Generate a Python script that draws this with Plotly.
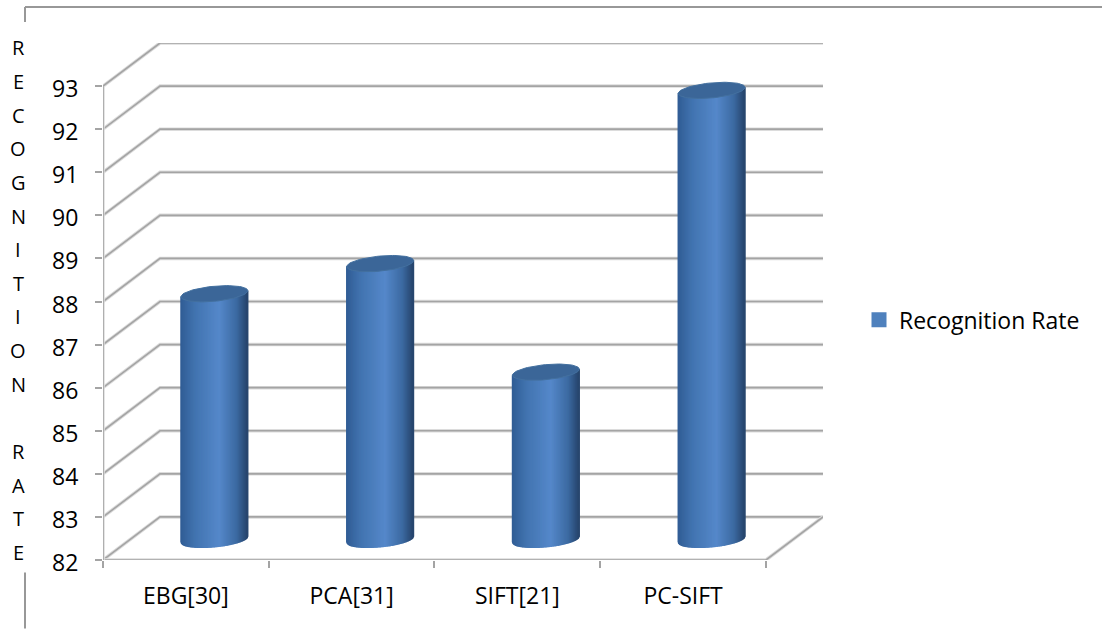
import numpy as np
import plotly.graph_objects as go

categories = ["EBG[30]", "PCA[31]", "SIFT[21]", "PC-SIFT"]
recognition_rate = [87.7, 88.4, 85.88, 92.42]
value_ticks = list(range(82, 94))
series_name = "Recognition Rate"
axis_title_letters = list("RECOGNITION") + [""] + list("RATE")

W, H = 1102, 629
L, R, T, B = 103, 823, 43, 560.5
GRID = "#a4a4a4"
HALO = "#dcdcdc"
FONT = "Open Sans, sans-serif"
TXT = "#000000"

depth_x, depth_y = 0.344, 1.0
x0, x1 = 0.5, len(categories) + 0.5

rad_x, rad_y, skew = 0.202, 0.175, 0.07
stops = [(0, (48, 92, 148)), (0.22, (66, 116, 176)), (0.58, (85, 136, 202)),
         (0.84, (60, 106, 162)), (1, (38, 68, 108))]


def shade(f):
    for (a, ca), (b, cb) in zip(stops, stops[1:]):
        if f <= b:
            k = (f - a) / (b - a)
            c = [round(p + (q - p) * k) for p, q in zip(ca, cb)]
            return f"rgb({c[0]},{c[1]},{c[2]})"
    return "rgb(38,68,108)"


fig = go.Figure()


def soft_line(xs, ys):
    for colr, wid in ((HALO, 3.5), (GRID, 1.6)):
        fig.add_trace(go.Scatter(x=xs, y=ys, mode="lines", line=dict(color=colr, width=wid),
                                 showlegend=False, hoverinfo="skip"))


for v in value_ticks:
    soft_line([x0, x0 + depth_x, x1 + depth_x], [v, v + depth_y, v + depth_y])

v0, v9 = value_ticks[0], value_ticks[-1]
soft_line([x0, x1, x1 + depth_x], [v0, v0, v0 + depth_y])
soft_line([x0, x0], [v0, v9])

# cylinders: strips evenly spaced across the width so the shading is smooth
n = 68
ts = np.arccos(np.linspace(-1, 1, n + 1))
ts = 2 * np.pi - ts
for i, val in enumerate(recognition_rate):
    cx = i + 1 + depth_x / 2
    base = v0 + depth_y * 0.48
    top = val + depth_y * 0.48
    for t1, t2 in zip(ts[:-1], ts[1:]):
        xa, xb = cx + rad_x * np.cos(t1), cx + rad_x * np.cos(t2)
        fa = rad_y * np.sin(t1) + skew * np.cos(t1)
        fb = rad_y * np.sin(t2) + skew * np.cos(t2)
        frac = ((xa + xb) / 2 - (cx - rad_x)) / (2 * rad_x)
        col = shade(frac)
        fig.add_trace(go.Scatter(
            x=[xa, xb, xb, xa, xa], y=[base + fa, base + fb, top + fb, top + fa, base + fa],
            mode="lines", fill="toself", fillcolor=col, line=dict(color=col, width=1.2),
            showlegend=False, hoverinfo="skip"))
    tt = np.linspace(0, 2 * np.pi, 80)
    fig.add_trace(go.Scatter(
        x=cx + rad_x * np.cos(tt), y=top + rad_y * np.sin(tt) + skew * np.cos(tt),
        mode="lines", fill="toself", fillcolor="#3b6698", line=dict(color="#43709f", width=1),
        showlegend=False, hoverinfo="skip"))

fig.add_trace(go.Scatter(
    x=[None], y=[None], mode="markers", name=series_name,
    marker=dict(symbol="square", size=15, color="#4f81bd")))

px = lambda p: (p - L) / (R - L)
py = lambda p: (B - p) / (B - T)

for k, ch in enumerate(axis_title_letters):
    if ch:
        fig.add_annotation(
            x=px(18), xref="paper", y=py(48 + k * 33.65), yref="paper", showarrow=False, text=ch,
            font=dict(family=FONT, size=20, color=TXT), xanchor="center", yanchor="middle")

frame = dict(type="line", xref="paper", yref="paper", line=dict(color="#989898", width=2))
fig.add_shape(x0=px(25), x1=px(W), y0=py(7), y1=py(7), **frame)
fig.add_shape(x0=px(25), x1=px(25), y0=py(7), y1=py(22), **frame)
fig.add_shape(x0=px(25), x1=px(25), y0=py(573), y1=py(629), **frame)

fig.update_layout(
    width=W, height=H, autosize=False,
    margin=dict(l=L, r=W - R, t=T, b=H - B, pad=0),
    paper_bgcolor="white", plot_bgcolor="white",
    font=dict(family=FONT, size=23, color=TXT),
    showlegend=True,
    legend=dict(x=px(869), y=py(320), xanchor="left", yanchor="middle", indentation=-10,
                font=dict(family=FONT, size=23, color=TXT),
                bgcolor="rgba(0,0,0,0)", itemwidth=30),
    xaxis=dict(range=[x0, x1 + depth_x], tickvals=list(range(1, len(categories) + 1)),
               ticktext=categories, ticks="", showgrid=False, zeroline=False, showline=False,
               ticklabelstandoff=20,
               minor=dict(tickvals=[j + 0.5 for j in range(len(categories) + 1)], ticks="outside",
                          ticklen=7, tickcolor=GRID, tickwidth=2, showgrid=False),
               tickfont=dict(family=FONT, size=23, color=TXT)),
    yaxis=dict(range=[v0, v9 + depth_y], tickvals=value_ticks, ticks="outside", ticklen=7,
               tickcolor=GRID, tickwidth=2, showgrid=False, zeroline=False, showline=False,
               ticklabelstandoff=12, ticklabelshift=3,
               tickfont=dict(family=FONT, size=23, color=TXT)),
)
fig.write_html("out.html", config=dict(displayModeBar=False),
               post_script="document.body.style.margin='0';document.documentElement.style.overflow='hidden';")
